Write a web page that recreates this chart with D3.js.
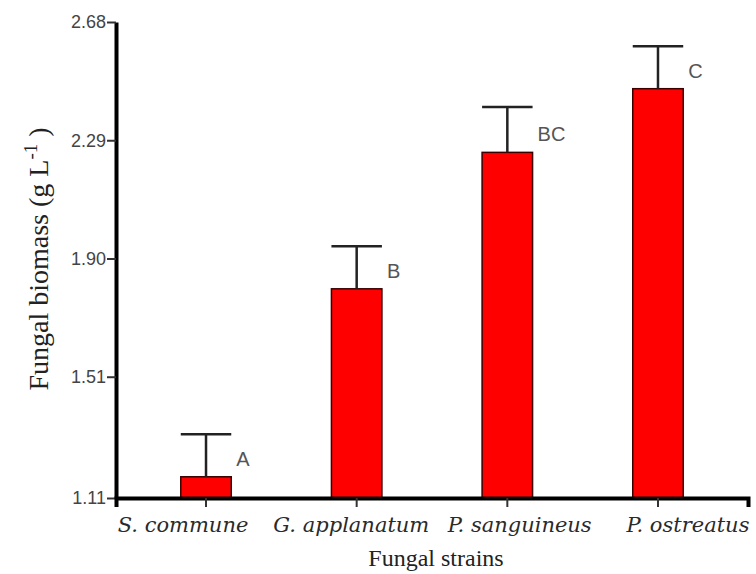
<!DOCTYPE html>
<html>
<head>
<meta charset="utf-8">
<script src="https://cdn.jsdelivr.net/npm/d3@7"></script>
<style>
  body { margin: 0; background: #fff; }
  svg { display: block; }
</style>
</head>
<body>
<div id="chart"></div>
<script>
// data
const strains = ["S. commune", "G. applanatum", "P. sanguineus", "P. ostreatus"];
const biomass = [1.18, 1.80, 2.25, 2.46];
const errors = [0.14, 0.14, 0.15, 0.14];
const groupLetters = ["A", "B", "BC", "C"];
const yTicks = [1.11, 1.51, 1.90, 2.29, 2.68];

const width = 756, height = 574;
const margin = {top: 22, right: 8, bottom: 76, left: 116};

const svg = d3.select("#chart").append("svg")
    .attr("width", width)
    .attr("height", height);

const x = d3.scaleBand()
    .domain(strains)
    .range([margin.left, width - margin.right])
    .paddingInner(0.665)
    .paddingOuter(0.43);

// labels are spread evenly under the axis in the original figure
const xLabel = d3.scalePoint()
    .domain(strains)
    .range([183, 688]);

const y = d3.scaleLinear()
    .domain([yTicks[0], yTicks[yTicks.length - 1]])
    .range([height - margin.bottom, margin.top]);

const rows = strains.map((s, i) => ({name: s, value: biomass[i], err: errors[i], letter: groupLetters[i]}));

// bars
svg.append("g")
  .selectAll("rect")
  .data(rows)
  .enter()
  .append("rect")
    .attr("x", d => x(d.name))
    .attr("y", d => y(d.value))
    .attr("width", x.bandwidth())
    .attr("height", d => y(yTicks[0]) - y(d.value))
    .style("fill", "#ff0000")
    .style("stroke", "#3a0000")
    .style("stroke-width", 1.5);

// error bars (upper only)
const eb = svg.append("g")
  .selectAll("g")
  .data(rows)
  .enter()
  .append("g")
    .style("stroke", "#222")
    .style("stroke-width", 2.5);

eb.append("line")
    .attr("x1", d => x(d.name) + x.bandwidth() / 2)
    .attr("x2", d => x(d.name) + x.bandwidth() / 2)
    .attr("y1", d => y(d.value))
    .attr("y2", d => y(d.value + d.err));

eb.append("line")
    .attr("x1", d => x(d.name))
    .attr("x2", d => x(d.name) + x.bandwidth())
    .attr("y1", d => y(d.value + d.err))
    .attr("y2", d => y(d.value + d.err));

// significance letters
svg.append("g")
  .selectAll("text")
  .data(rows)
  .enter()
  .append("text")
    .attr("x", d => x(d.name) + x.bandwidth() + 5)
    .attr("y", d => y(d.value) - 11)
    .style("font-family", "'Liberation Sans', Arial, sans-serif")
    .style("font-size", "20px")
    .style("fill", "#555")
    .text(d => d.letter);

// y axis
const yAxis = svg.append("g")
    .attr("transform", `translate(${margin.left},0)`)
    .call(d3.axisLeft(y)
        .tickValues(yTicks)
        .tickFormat(d3.format(".2f"))
        .tickSize(9)
        .tickSizeOuter(0)
        .tickPadding(1));

yAxis.select(".domain").style("stroke", "#000").style("stroke-width", 4);
yAxis.selectAll(".tick line").style("stroke", "#333").style("stroke-width", 2);
yAxis.selectAll(".tick text")
    .style("font-family", "'Liberation Sans', Arial, sans-serif")
    .style("font-size", "18px")
    .style("fill", "#444");

// x axis
const xAxis = svg.append("g")
    .attr("transform", `translate(0,${height - margin.bottom})`)
    .call(d3.axisBottom(x)
        .tickSize(9)
        .tickSizeOuter(9)
        .tickFormat(""));

xAxis.select(".domain").style("stroke", "#000").style("stroke-width", 4);
xAxis.selectAll(".tick line").style("stroke", "#333").style("stroke-width", 2);

svg.append("g")
  .selectAll("text")
  .data(strains)
  .enter()
  .append("text")
    .attr("x", d => xLabel(d))
    .attr("y", height - margin.bottom + 34)
    .attr("text-anchor", "middle")
    .style("font-family", "'DejaVu Serif', serif")
    .style("font-style", "italic")
    .style("font-size", "21px")
    .style("fill", "#2a2a2a")
    .text(d => d);

// axis titles
svg.append("text")
    .attr("x", 436)
    .attr("y", 566)
    .attr("text-anchor", "middle")
    .style("font-family", "'Liberation Serif', 'Times New Roman', serif")
    .style("font-size", "24px")
    .style("fill", "#222")
    .text("Fungal strains");

const yTitle = svg.append("text")
    .attr("transform", "translate(48,259) rotate(-90)")
    .attr("text-anchor", "middle")
    .style("font-family", "'Liberation Serif', 'Times New Roman', serif")
    .style("font-size", "28px")
    .style("fill", "#222");

yTitle.append("tspan").text("Fungal biomass (g L");
yTitle.append("tspan").attr("dy", -11).style("font-size", "19px").text("-1");
yTitle.append("tspan").attr("dy", 11).text(" )");
</script>
</body>
</html>
